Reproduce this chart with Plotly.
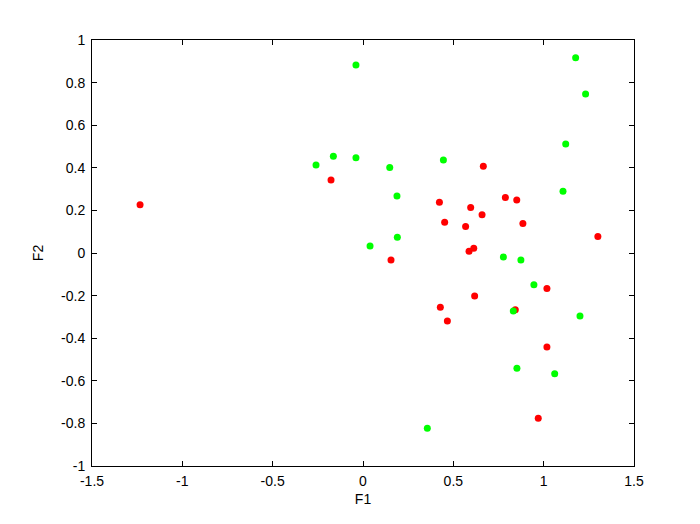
import plotly.graph_objects as go

red_f1 = [-1.234, -0.177, 0.666, 0.423, 0.596, 0.659, 0.788, 0.851, 0.452, 0.568, 0.885, 1.30,
          0.587, 0.613, 0.155, 1.018, 0.618, 0.428, 0.467, 0.843, 1.018, 0.970]
red_f2 = [0.227, 0.343, 0.407, 0.238, 0.214, 0.180, 0.261, 0.249, 0.144, 0.125, 0.138, 0.078,
          0.008, 0.022, -0.033, -0.167, -0.202, -0.255, -0.319, -0.266, -0.441, -0.776]

green_f1 = [-0.039, -0.260, -0.164, -0.039, 0.039, 1.177, 1.232, 1.122, 1.107, 0.445, 0.148,
            0.188, 0.190, 0.777, 0.874, 0.946, 0.832, 1.201, 0.852, 1.061, 0.356]
green_f2 = [0.883, 0.413, 0.454, 0.447, 0.033, 0.917, 0.746, 0.512, 0.290, 0.437, 0.401,
            0.268, 0.074, -0.019, -0.033, -0.149, -0.272, -0.296, -0.541, -0.567, -0.823]

x_ticks = [-1.5, -1, -0.5, 0, 0.5, 1, 1.5]
x_labels = ["-1.5", "-1", "-0.5", "0", "0.5", "1", "1.5"]
y_ticks = [-1, -0.8, -0.6, -0.4, -0.2, 0, 0.2, 0.4, 0.6, 0.8, 1]
y_labels = ["-1", "-0.8", "-0.6", "-0.4", "-0.2", "0", "0.2", "0.4", "0.6", "0.8", "1"]

fig = go.Figure()
fig.add_trace(go.Scatter(x=red_f1, y=red_f2, mode="markers",
                         marker=dict(color="#ff0000", size=7), showlegend=False))
fig.add_trace(go.Scatter(x=green_f1, y=green_f2, mode="markers",
                         marker=dict(color="#00ff00", size=7), showlegend=False))

axis_common = dict(showgrid=False, zeroline=False, showline=True, linecolor="black",
                   linewidth=1, mirror="ticks", ticks="inside", ticklen=5,
                   tickcolor="black", tickfont=dict(size=14, color="black"))

fig.update_layout(
    width=700, height=524,
    margin=dict(l=84, r=74, t=32, b=66),
    paper_bgcolor="white", plot_bgcolor="white",
    font=dict(family="Liberation Sans, Arial, sans-serif", size=14, color="black"),
    xaxis=dict(range=[-1.5, 1.5], tickvals=x_ticks, ticktext=x_labels, ticklabelstandoff=2,
               title=dict(text="F1", standoff=6, font=dict(size=14)), **axis_common),
    yaxis=dict(range=[-1, 1], tickvals=y_ticks, ticktext=y_labels, ticklabelstandoff=3,
               title=dict(text="F2", standoff=14, font=dict(size=14)), **axis_common),
)

fig.write_html("out.html")
